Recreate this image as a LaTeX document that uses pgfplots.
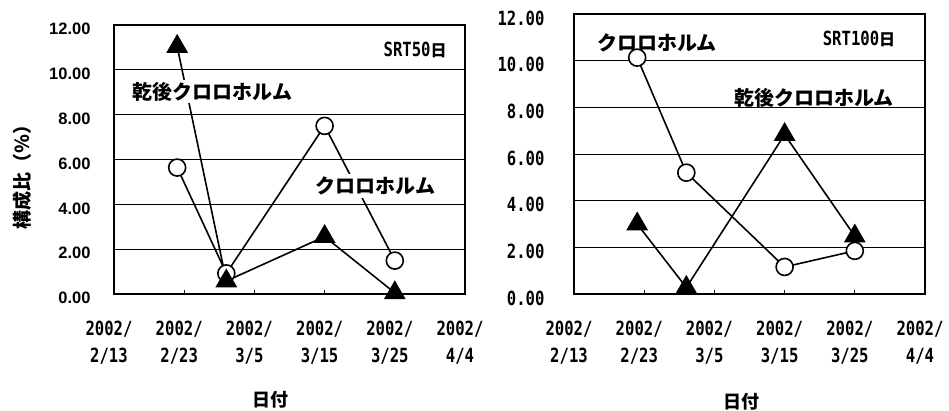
\documentclass[border=0pt]{standalone}
\usepackage{fontspec}
\usepackage{pgfplots}
\pgfplotsset{compat=1.18}
\setmainfont{Liberation Sans}
\newfontfamily\jp{Noto Sans CJK JP}
\newfontfamily\gm[FakeStretch=0.8]{DejaVu Sans Mono}
\tikzset{jpl/.style={font=\jp\bfseries\fontsize{20}{22}\selectfont}}

\begin{document}
\begin{tikzpicture}
\useasboundingbox (0pt,0pt) rectangle (949pt,410pt);
\pgfplotsset{
 panel/.style={
  scale only axis, xmin=0, xmax=50, ymin=0, ymax=12,
  xtick={0,10,20,30,40,50},
  xticklabels={{2002/\\2/13},{2002/\\2/23},{2002/\\3/5},{2002/\\3/15},{2002/\\3/25},{2002/\\4/4}},
  xticklabel style={align=center, font=\gm\bfseries\fontsize{19.5}{27}\selectfont, yshift=-23pt, xshift=-5pt},
  xtick pos=left, tick align=inside, major tick length=4pt,
  xtick style={black, line width=1pt},
  ytick={0,2,4,6,8,10,12},
  ytick style={draw=none},
  ymajorgrids, grid style={black, line width=1pt},
  axis line style={line width=2pt},
  clip=false,
  /pgf/number format/assume math mode=true,
 },
 circ/.style={black, line width=1.6pt, mark=*, mark size=8.5pt, mark options={fill=white, line width=1.6pt}},
 tri/.style={black, line width=1.6pt, mark=triangle*, mark size=11pt, mark options={fill=black}},
}
% Left panel: SRT50
\begin{axis}[panel, at={(114pt,116pt)}, anchor=south west, width=351pt, height=269pt,
  yticklabels={0.00,2.00,4.00,6.00,8.00,10.00,12.00},
  yticklabel style={font=\bfseries\fontsize{16.5}{18}\selectfont, xshift=-20pt, yshift=-4pt},
  ylabel={構成比（％）},
  ylabel style={font=\jp\bfseries\fontsize{19}{22}\selectfont, at={(axis description cs:-0.262,0.4535)}, anchor=center},
  xlabel={日付},
  xlabel style={font=\jp\bfseries\fontsize{18}{20}\selectfont, at={(axis description cs:0.447,-0.394)}, anchor=center},
]
\addplot[circ] coordinates {(9,5.64) (16,0.92) (30,7.5) (40,1.49)};
\addplot[tri] coordinates {(9,11.04) (16,0.58) (30,2.56) (40,0.05)};
\node[jpl, fill=white, inner sep=2pt] at (axis cs:14,9.02) {乾後クロロホルム};
\node[jpl, fill=white, inner sep=3pt] at (axis cs:37.25,4.82) {クロロホルム};
\node[font=\gm\bfseries\fontsize{19.5}{20}\selectfont] at (axis cs:42.9,10.88) {SRT50{\jp\fontsize{16}{18}\selectfont 日}};
\end{axis}
% Right panel: SRT100
\begin{axis}[panel, at={(574pt,116pt)}, anchor=south west, width=351pt, height=280pt,
  yticklabels={0.00,2.00,4.00,6.00,8.00,10.00,12.00},
  yticklabel style={font=\gm\bfseries\fontsize{19.5}{20}\selectfont, xshift=-26pt, yshift=-4pt},
  xlabel={日付},
  xlabel style={font=\jp\bfseries\fontsize{18}{20}\selectfont, at={(axis description cs:0.476,-0.386)}, anchor=center},
]
\addplot[tri] coordinates {(9,3.0) (16,0.28) (30,6.83) (40,2.48)};
\addplot[circ] coordinates {(9,10.13) (16,5.2) (30,1.16) (40,1.85)};
\node[jpl, fill=white, inner sep=2pt] at (axis cs:11.8,10.76) {クロロホルム};
\node[jpl] at (axis cs:34.2,8.4) {乾後クロロホルム};
\node[font=\gm\bfseries\fontsize{19.5}{20}\selectfont] at (axis cs:40.6,10.93) {SRT100{\jp\fontsize{16}{18}\selectfont 日}};
\end{axis}
\end{tikzpicture}
\end{document}
